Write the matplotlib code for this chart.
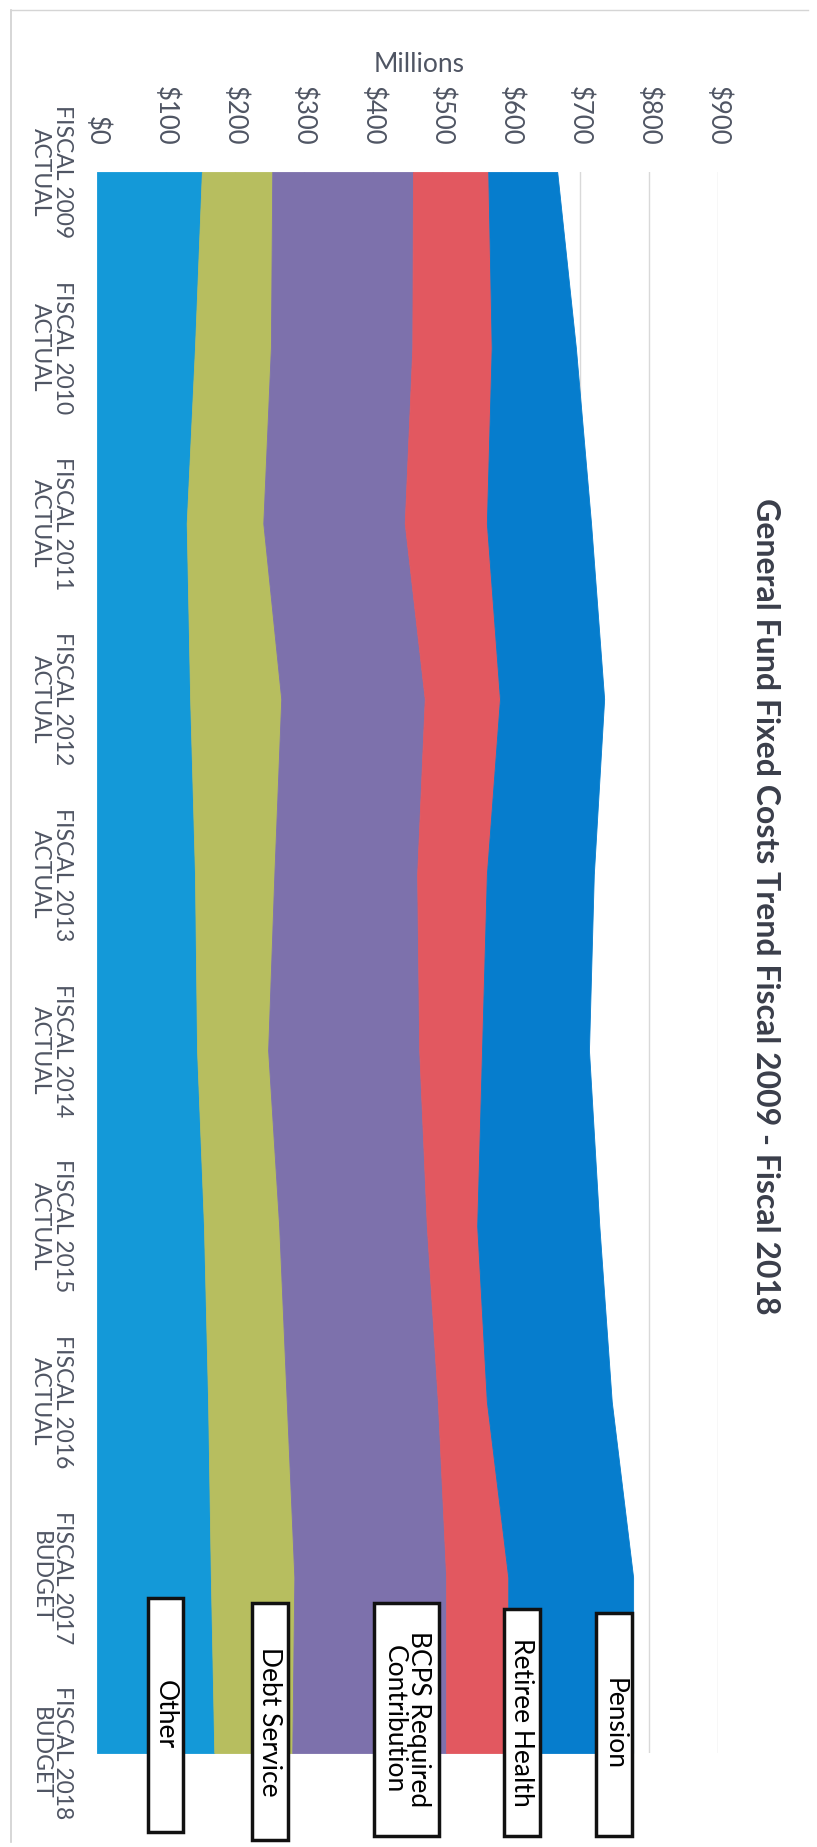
import matplotlib
matplotlib.use('Agg')
import matplotlib.pyplot as plt
from matplotlib.patches import Rectangle
from matplotlib.lines import Line2D
import numpy as np

# data (millions of dollars)
years = ['FISCAL 2009\nACTUAL', 'FISCAL 2010\nACTUAL', 'FISCAL 2011\nACTUAL',
         'FISCAL 2012\nACTUAL', 'FISCAL 2013\nACTUAL', 'FISCAL 2014\nACTUAL',
         'FISCAL 2015\nACTUAL', 'FISCAL 2016\nACTUAL', 'FISCAL 2017\nBUDGET',
         'FISCAL 2018\nBUDGET']
other = [152, 142, 130, 135, 142, 145, 155, 161, 165, 170]
debt_service = [102, 110, 111, 132, 115, 103, 109, 114, 121, 113]
bcps = [204, 205, 205, 208, 207, 219, 214, 219, 220, 223]
retiree_health = [109, 115, 119, 109, 101, 91, 73, 71, 90, 90]
pension = [100, 122, 151, 151, 155, 155, 177, 181, 181, 181]

series = [other, debt_service, bcps, retiree_health, pension]
colors = ['#1499d8', '#b7be5f', '#7d71ac', '#e25860', '#067dcd']
box_labels = ['Other', 'Debt Service', 'BCPS Required\nContribution',
              'Retiree Health', 'Pension']
value_ticks = list(range(0, 1000, 100))

W, H = 817, 1847
fig = plt.figure(figsize=(W / 100, H / 100), dpi=100)
plt.rcParams['font.family'] = ['Lato', 'DejaVu Sans']
txt_color = '#4f5563'

# the scan is the excel chart turned 90 degrees clockwise:
# values run left -> right, years run top -> bottom
ax = fig.add_axes([97 / W, 1 - 1753 / H, (718 - 97) / W, (1753 - 172) / H])
y = np.arange(len(years))
base = np.zeros(len(years))
for vals, c in zip(series, colors):
    top = base + np.array(vals)
    ax.fill_betweenx(y, base, top, color=c, lw=0.6, ec=c, zorder=2)
    base = top

ax.set_xlim(0, 900)
ax.set_ylim(len(years) - 1, 0)
for s in ax.spines.values():
    s.set_visible(False)
for v in value_ticks[1:]:
    ax.axvline(v, color='#d9d9d9', lw=1, zorder=1)

ax.xaxis.set_ticks_position('top')
ax.set_xticks(value_ticks)
ax.set_xticklabels(['$%d' % v for v in value_ticks])
ax.tick_params(axis='x', length=0, pad=19, labelsize=18.5, labelcolor=txt_color)
for lab in ax.get_xticklabels():
    lab.set_rotation(270)
    lab.set_rotation_mode('default')
    lab.set_ha('center')
    lab.set_va('bottom')

ax.set_yticks(y)
ax.set_yticklabels(years)
ax.tick_params(axis='y', length=0, pad=17, labelsize=16.5, labelcolor=txt_color)
for lab in ax.get_yticklabels():
    lab.set_rotation(270)
    lab.set_rotation_mode('default')
    lab.set_ha('right')
    lab.set_va('center')
    lab.set_multialignment('center')
    lab.set_linespacing(1.1)

# overlay in pixel units for title and the pasted-on label boxes
ov = fig.add_axes([0, 0, 1, 1], zorder=5)
ov.set_xlim(0, W)
ov.set_ylim(H, 0)
ov.axis('off')

ov.text(766, 906, 'General Fund Fixed Costs Trend Fiscal 2009 - Fiscal 2018',
        rotation=270, ha='center', va='center', fontsize=23,
        fontweight='bold', color='#3a3e4a')
ov.text(419, 65, 'Millions', ha='center', va='center', fontsize=19,
        color=txt_color)

boxes = [(148, 183, 1598, 1832), (252, 288, 1603, 1840), (374, 439, 1603, 1836),
         (504, 540, 1609, 1836), (596, 632, 1613, 1836)]
for (x0, x1, y0, y1), lab in zip(boxes, box_labels):
    ov.add_patch(Rectangle((x0, y0), x1 - x0, y1 - y0, fc='white',
                           ec='#111111', lw=2.5))
    ov.text((x0 + x1) / 2, (y0 + y1) / 2, lab, rotation=270, ha='center',
            va='center', fontsize=19, color='black', multialignment='center',
            linespacing=1.0)

# faint scan border
ov.add_line(Line2D([11, 11], [10, 1842], color='#cfcfcf', lw=1.2))
ov.add_line(Line2D([11, 808], [10, 10], color='#d5d5d5', lw=1.0))

fig.savefig('out.png', dpi=100, facecolor='white')
